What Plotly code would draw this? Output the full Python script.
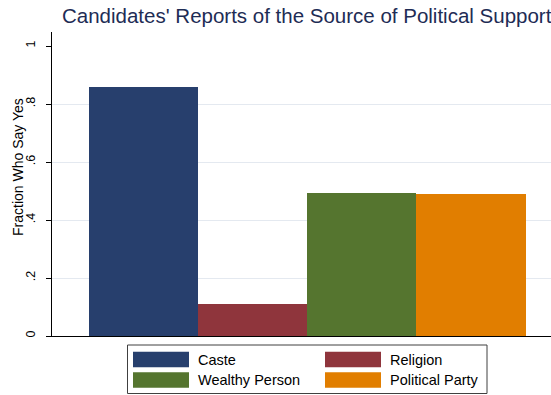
import plotly.graph_objects as go

# ---- data ----
categories = ["Caste", "Religion", "Wealthy Person", "Political Party"]
values = [0.86, 0.109, 0.492, 0.489]
colors = ["#273f6d", "#8f353c", "#55752f", "#e17e00"]
y_tickvals = [0, 0.2, 0.4, 0.6, 0.8, 1]
y_ticktext = ["0", ".2", ".4", ".6", ".8", "1"]
grid_vals = [0.2, 0.4, 0.6, 0.8]
title_text = "Candidates' Reports of the Source of Political Support"
y_title = "Fraction Who Say Yes"

W, H = 551, 395
L, R, T, B = 52, 0, 32, 59
pw, ph = W - L - R, H - T - B

FONT = "Arial, Liberation Sans, Helvetica, sans-serif"

fig = go.Figure()
fig.add_trace(go.Bar(
    x=list(range(len(categories))), y=values,
    marker=dict(color=colors, line=dict(width=0)),
    width=1.0, showlegend=False, hoverinfo="skip",
))


def px_x(p):
    return (p - L) / pw


def px_y(p):
    return (H - B - p) / ph


# custom legend built from the data lists
shapes = [dict(type="rect", xref="paper", yref="paper",
               x0=px_x(127.5), x1=px_x(487), y0=px_y(345), y1=px_y(393.5),
               line=dict(color="#404040", width=1), fillcolor="white")]
annotations = []
cols_x = [133, 325]
rows_y = [(351.7, 367.3), (372.3, 387.7)]
for i, (name, c) in enumerate(zip(categories, colors)):
    r, col = divmod(i, 2)
    sx = cols_x[col]
    y0, y1 = rows_y[r]
    shapes.append(dict(type="rect", xref="paper", yref="paper",
                       x0=px_x(sx), x1=px_x(sx + 56), y0=px_y(y1), y1=px_y(y0),
                       line=dict(width=0), fillcolor=c))
    annotations.append(dict(xref="paper", yref="paper", x=px_x(sx + 63),
                            y=px_y((y0 + y1) / 2), text=name, showarrow=False,
                            xanchor="left", yanchor="middle",
                            font=dict(family=FONT, size=14.5, color="black")))

# y-axis title
annotations.append(dict(xref="paper", yref="paper", x=px_x(17.5), y=px_y(167.5),
                        text=y_title, textangle=-90, showarrow=False,
                        xanchor="center", yanchor="middle",
                        font=dict(family=FONT, size=14, color="black")))

fig.update_layout(
    width=W, height=H,
    margin=dict(l=L, r=R, t=T, b=B, autoexpand=False),
    paper_bgcolor="white", plot_bgcolor="white",
    bargap=0,
    title=dict(text=title_text, x=62 / W, xanchor="left", xref="container",
               y=1 - 16 / H, yanchor="middle", yref="container",
               font=dict(family=FONT, size=20.5, color="#1e2c55")),
    xaxis=dict(range=[-0.836, 3.732], showticklabels=False, ticks="",
               showgrid=False, zeroline=False, showline=True,
               linecolor="black", linewidth=1),
    yaxis=dict(range=[0, ph / 290], tickvals=y_tickvals, ticktext=y_ticktext,
               tickangle=-90, ticks="outside", ticklen=5, tickcolor="black",
               ticklabelstandoff=6,
               tickfont=dict(family=FONT, size=12.5, color="black"),
               showgrid=False, zeroline=False, showline=True,
               linecolor="black", linewidth=1,
               minor=dict(tickmode="array", tickvals=grid_vals, showgrid=True,
                          gridcolor="#e4e9f0", gridwidth=1, ticks="")),
    shapes=shapes, annotations=annotations,
    font=dict(family=FONT),
)

fig.write_html("out.html", config={"displayModeBar": False},
               post_script="document.body.style.margin='0px';document.body.style.padding='0px';")
